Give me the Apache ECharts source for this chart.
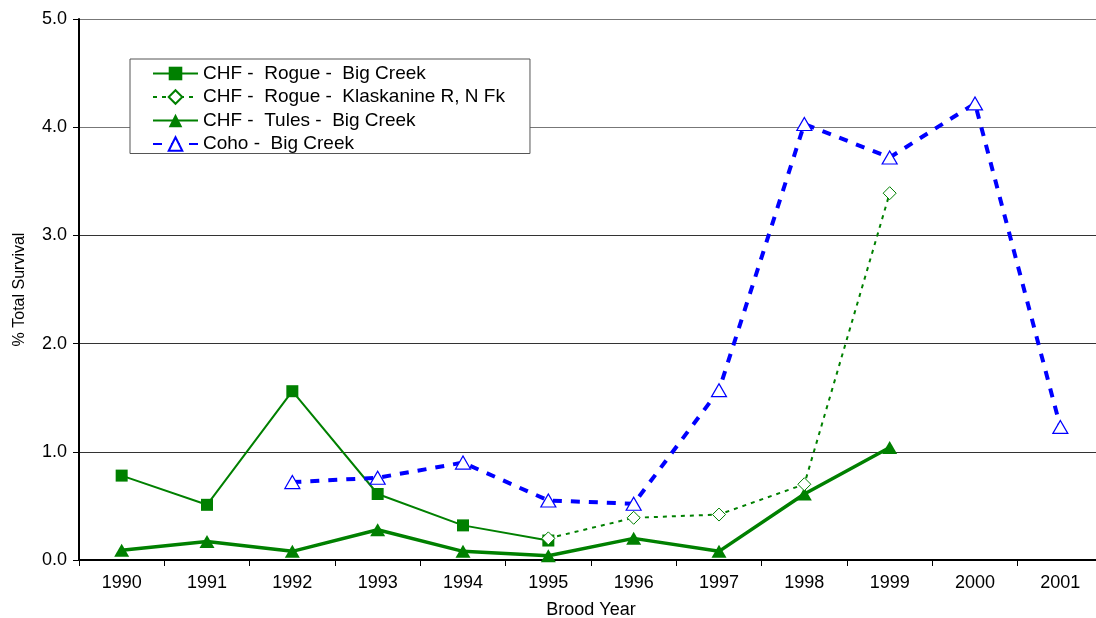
<!DOCTYPE html>
<html>
<head>
<meta charset="utf-8">
<script src="https://cdn.jsdelivr.net/npm/echarts@6/dist/echarts.min.js"></script>
<style>html,body{margin:0;padding:0;background:#fff;overflow:hidden;}#c{width:1096px;height:618px;}</style>
</head>
<body>
<div id="c"></div>
<script>
const years = ['1990','1991','1992','1993','1994','1995','1996','1997','1998','1999','2000','2001'];
const rogueBigCreek = [0.78, 0.51, 1.56, 0.61, 0.32, 0.18, null, null, null, null, null, null];
const rogueKlaskanine = [null, null, null, null, null, 0.20, 0.39, 0.42, 0.70, 3.39, null, null];
const tulesBigCreek = [0.09, 0.17, 0.08, 0.28, 0.08, 0.04, 0.20, 0.08, 0.61, 1.04, null, null];
const cohoBigCreek = [null, null, 0.72, 0.76, 0.90, 0.55, 0.52, 1.57, 4.03, 3.72, 4.22, 1.23];
const seriesNames = ['CHF -  Rogue -  Big Creek', 'CHF -  Rogue -  Klaskanine R, N Fk', 'CHF -  Tules -  Big Creek', 'Coho -  Big Creek'];

const FONT = 'Liberation Sans, Arial, sans-serif';
const chart = echarts.init(document.getElementById('c'), null, {renderer: 'canvas', width: 1096, height: 618});
chart.setOption({
  animation: false,
  backgroundColor: '#fff',
  textStyle: {fontFamily: FONT},
  grid: {left: 79, top: 19, width: 1024, height: 541, containLabel: false, outerBoundsMode: 'none'},
  legend: {
    orient: 'vertical', left: 130, top: 59,
    padding: [5, 25, 0, 22],
    itemWidth: 45, itemHeight: 17, itemGap: 4.5,
    backgroundColor: '#fff', borderColor: '#555', borderWidth: 1,
    textStyle: {fontFamily: FONT, fontSize: 19, color: '#000'},
    data: seriesNames
  },
  xAxis: {
    type: 'category', data: years, boundaryGap: true,
    axisLine: {lineStyle: {color: '#000', width: 2}},
    axisTick: {show: true, alignWithLabel: false, length: 6, lineStyle: {color: '#000', width: 1}},
    axisLabel: {color: '#000', fontSize: 18, margin: 14, fontFamily: FONT},
    name: 'Brood Year', nameLocation: 'middle', nameGap: 41,
    nameTextStyle: {color: '#000', fontSize: 18, fontFamily: FONT},
    splitLine: {show: false}
  },
  yAxis: {
    type: 'value', min: 0, max: 5, interval: 1,
    axisLine: {show: true, lineStyle: {color: '#000', width: 2}},
    axisTick: {show: true, length: 6, lineStyle: {color: '#000'}},
    axisLabel: {color: '#000', fontSize: 18, margin: 12, fontFamily: FONT, formatter: v => v.toFixed(1)},
    splitLine: {show: true, lineStyle: {color: ['#333', '#333', '#333', '#333', '#777', '#777'], width: 1}},
    name: '% Total Survival', nameLocation: 'middle', nameGap: 51,
    nameTextStyle: {color: '#000', fontSize: 16, fontFamily: FONT}
  },
  series: [
    {
      name: seriesNames[0], type: 'line', data: rogueBigCreek,
      symbol: 'rect', symbolSize: 12, showAllSymbol: true,
      lineStyle: {color: '#008000', width: 2},
      itemStyle: {color: '#008000'}, z: 3
    },
    {
      name: seriesNames[1], type: 'line', data: rogueKlaskanine,
      symbol: 'diamond', symbolSize: [13, 13], showAllSymbol: true,
      lineStyle: {color: '#008000', width: 2, type: [4, 5]},
      itemStyle: {color: '#fff', borderColor: '#008000', borderWidth: 1}, z: 4
    },
    {
      name: seriesNames[2], type: 'line', data: tulesBigCreek,
      symbol: 'triangle', symbolSize: [15, 13], showAllSymbol: true,
      lineStyle: {color: '#008000', width: 3.5},
      itemStyle: {color: '#008000'}, z: 3
    },
    {
      name: seriesNames[3], type: 'line', data: cohoBigCreek,
      symbol: 'triangle', symbolSize: [15, 13], showAllSymbol: true,
      lineStyle: {color: '#0000ff', width: 4, type: [9, 9]},
      itemStyle: {color: '#fff', borderColor: '#0000ff', borderWidth: 1.2}, z: 5
    }
  ]
});
</script>
</body>
</html>
